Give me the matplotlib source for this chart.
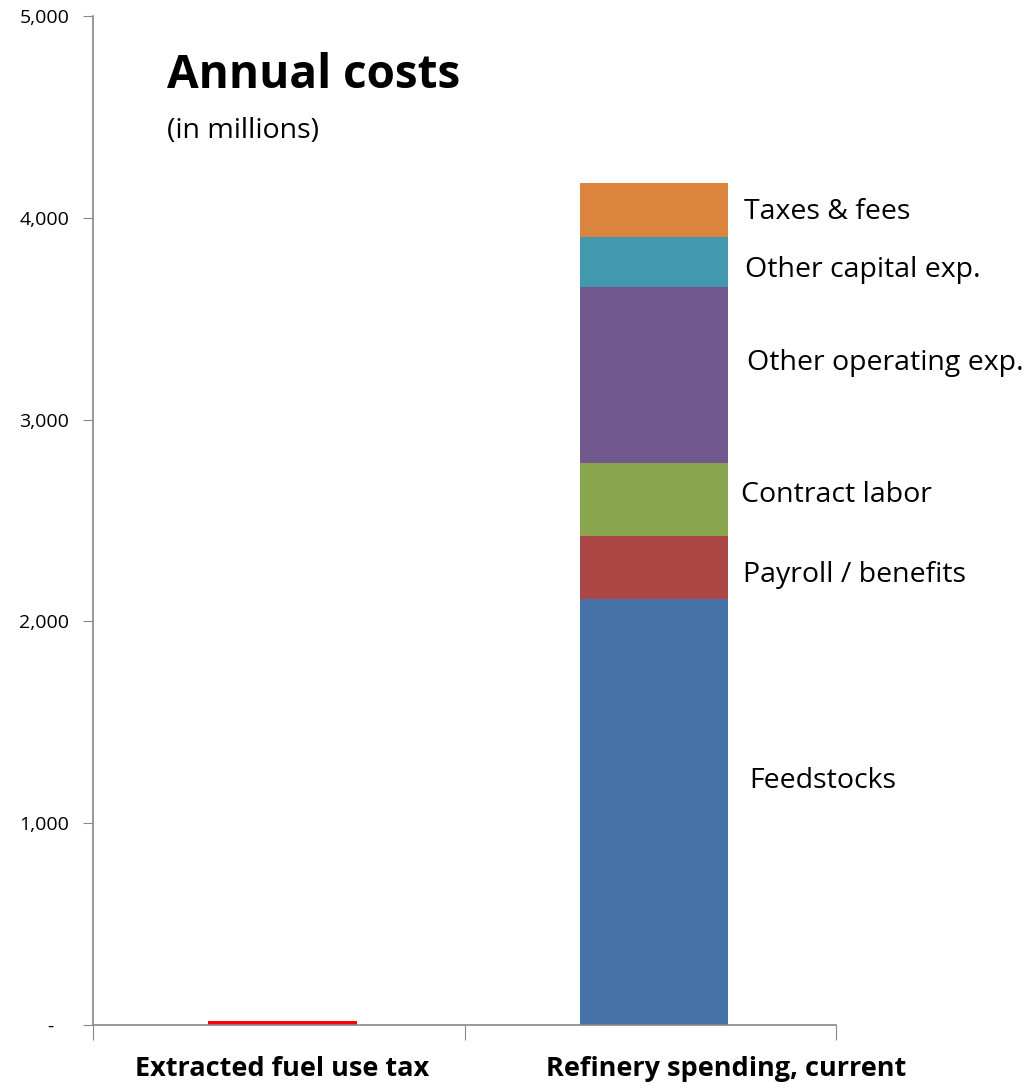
import matplotlib
matplotlib.use("Agg")
import matplotlib.pyplot as plt
import numpy as np

plt.rcParams['font.family'] = ['Open Sans', 'DejaVu Sans']

categories = ["Extracted fuel use tax", "Refinery spending, current"]
tax_value = [20, 0]
segments = ["Feedstocks", "Payroll / benefits", "Contract labor",
            "Other operating exp.", "Other capital exp.", "Taxes & fees"]
segment_values = [2110, 313, 362, 872, 248, 267]
segment_colors = ["#4572A7", "#AA4643", "#89A54E", "#71588F", "#4198AF", "#DB843D"]
label_y = [1209, 2230, 2626, 3280, 3741, 4029]
label_dx = [0.057, 0.040, 0.035, 0.051, 0.046, 0.043]
cat_label_dx = [0.0, 0.195]
yticks = [0, 1000, 2000, 3000, 4000, 5000]
yticklabels = ["-   ", "1,000", "2,000", "3,000", "4,000", "5,000"]

fig = plt.figure(figsize=(10.29, 10.89), dpi=100)
ax = fig.add_axes([93/1029, 1-1025/1089, (836-93)/1029, (1025-16)/1089])

x = np.arange(len(categories)) + 0.01
w = 0.4
ax.bar(x[0], tax_value[0], width=w, color="#FF0000")
bottom = 0
for name, v, c, ly, dx in zip(segments, segment_values, segment_colors, label_y, label_dx):
    ax.bar(x[1], v, width=w, bottom=bottom, color=c)
    ax.text(x[1] + w/2 + dx, ly, name, fontsize=20.5, va='center', ha='left', color='black')
    bottom += v

ax.set_xlim(-0.5, 1.5)
ax.set_ylim(0, 5000)
ax.set_yticks(yticks)
ax.set_yticklabels(yticklabels, fontsize=14)
ax.set_xticks([-0.5, 0.5, 1.5])
ax.set_xticklabels([])
ax.tick_params(axis='y', length=7, color='#888888', pad=10)
ax.tick_params(axis='x', length=11, color='#888888')
for i, cat in enumerate(categories):
    ax.text(x[i] + cat_label_dx[i], -218, cat, fontsize=19.5, fontweight='bold',
            ha='center', va='center')

for s in ['top', 'right']:
    ax.spines[s].set_visible(False)
for s in ['left', 'bottom']:
    ax.spines[s].set_color('#888888')
    ax.spines[s].set_linewidth(1.2)

fig.text(167/1029, 1-76/1089, "Annual costs", fontsize=33, fontweight='bold', va='center', ha='left')
fig.text(167/1029, 1-131/1089, "(in millions)", fontsize=20.5, va='center', ha='left')

fig.savefig("out.png", dpi=100)
